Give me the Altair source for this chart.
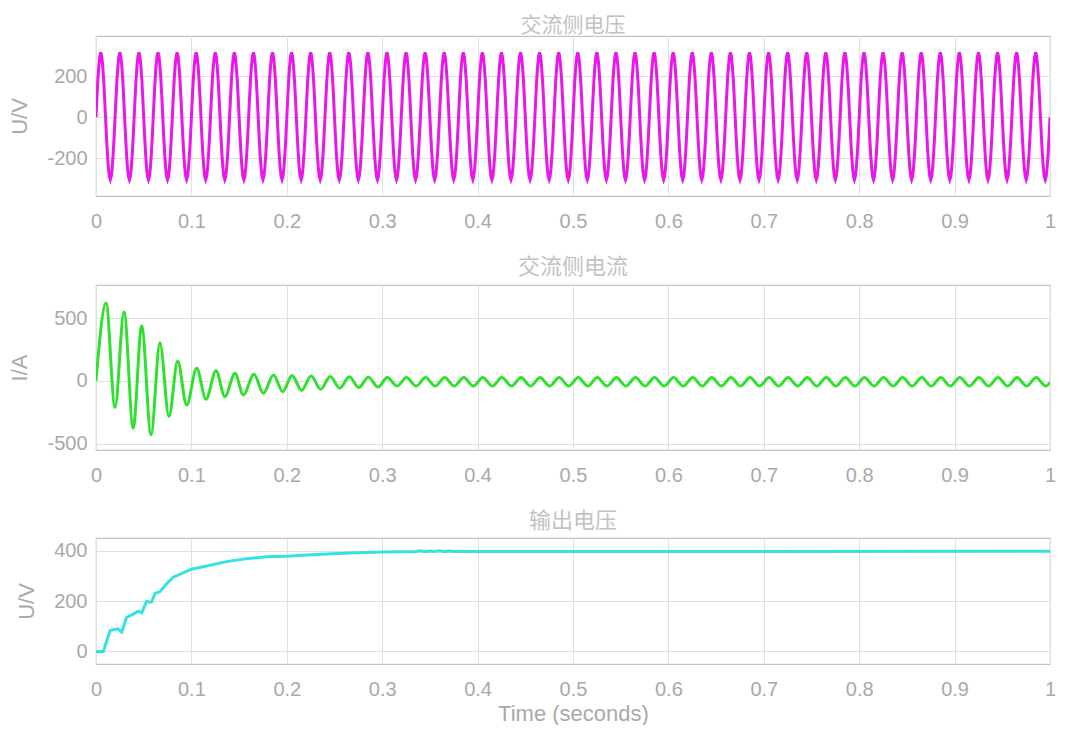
import altair as alt
import pandas as pd

# ---------------- data ----------------
X_TICKS = [0, 0.1, 0.2, 0.3, 0.4, 0.5, 0.6, 0.7, 0.8, 0.9, 1]

# AC-side voltage: one 20 ms cycle read at 1 ms steps (V), repeated for 50 cycles
VOLT_CYCLE = [0, 98, 185, 252, 298, 317, 298, 252, 185, 98,
              0, -96, -180, -246, -290, -305, -290, -246, -180, -96]
VOLT_CYCLES = 50
VOLT_STEP = 0.001

# AC-side current: extrema of the start-up transient (s, A)
CUR_T = [0.0, 0.0105, 0.0199, 0.0294, 0.039, 0.0479, 0.0577, 0.067, 0.0765,
         0.0856, 0.095, 0.1055, 0.1153, 0.1258, 0.135, 0.1457, 0.1544,
         0.1656, 0.1754, 0.186, 0.1957]
CUR_V = [0, 621, -209, 550, -375, 439, -429, 304, -283,
         159, -192, 101, -145, 82, -125, 61, -111,
         53, -98, 48, -85]
# steady-state extrema after 0.2 s (one peak and one trough per 20 ms)
CUR_STEADY_FIRST_PEAK = 0.2055
CUR_STEADY_PERIOD = 0.02
CUR_STEADY_PEAKS = [44, 40, 36, 33, 30] + [27] * 35
CUR_STEADY_TROUGHS = [-75, -65, -58, -52, -48] + [-40] * 35
CUR_END_T = 1.0
CUR_END_V = -13

# DC output voltage (s, V)
OUT_T = [0, 0.0077, 0.0147, 0.023, 0.027, 0.032, 0.039, 0.044, 0.048, 0.053,
         0.058, 0.062, 0.067, 0.074, 0.081, 0.090, 0.100, 0.116, 0.137, 0.158,
         0.179, 0.200, 0.231, 0.266, 0.30, 0.335, 0.34, 0.345, 0.35, 0.355,
         0.36, 0.365, 0.37, 0.376, 0.40, 1.0]
OUT_V = [0, 0, 83, 90, 77, 135, 148, 160, 154, 199,
         195, 231, 237, 269, 295, 310, 327, 340, 357, 369,
         376, 378, 385, 391, 395, 397, 400, 396, 399, 397,
         400, 396, 399, 397, 397, 398]

TITLES = ["交流侧电压", "交流侧电流", "输出电压"]
Y_TITLES = ["U/V", "I/A", "U/V"]
Y_TICKS = [[-200, 0, 200], [-500, 0, 500], [0, 200, 400]]
Y_DOMAINS = [[-385, 397], [-550, 765], [-50, 451]]
COLORS = ["#e818e8", "#2fe02f", "#34e2e2"]

# ---------------- tables ----------------
n_v = VOLT_CYCLES * len(VOLT_CYCLE) + 1
volt_df = pd.DataFrame({
    "t": [round(k * VOLT_STEP, 6) for k in range(n_v)],
    "v": [VOLT_CYCLE[k % len(VOLT_CYCLE)] for k in range(n_v)],
})

cur_t = list(CUR_T)
cur_v = list(CUR_V)
for k, (pk, tr) in enumerate(zip(CUR_STEADY_PEAKS, CUR_STEADY_TROUGHS)):
    tp = CUR_STEADY_FIRST_PEAK + k * CUR_STEADY_PERIOD
    cur_t += [tp, tp + CUR_STEADY_PERIOD / 2]
    cur_v += [pk, tr]
cur_t.append(CUR_END_T)
cur_v.append(CUR_END_V)
cur_df = pd.DataFrame({"t": cur_t, "v": cur_v})

out_df = pd.DataFrame({"t": OUT_T, "v": OUT_V})

LABEL_FONT = "Liberation Sans"
LABEL_COLOR = "#a9a9a9"
TITLE_OFFSETS = [0, 6, 5]
TITLE_SIZES = [21, 22, 22]


def panel(df, i, height, interp, show_x_title=False):
    x_axis = alt.Axis(
        values=X_TICKS, format="~g", labelFontSize=20, labelPadding=15,
        labelColor=LABEL_COLOR, labelFont=LABEL_FONT, ticks=False, domain=False,
        gridColor="#e0e0e0", labelFlush=False,
        title="Time (seconds)" if show_x_title else None,
        titleFontSize=22, titleColor=LABEL_COLOR, titleFont=LABEL_FONT,
        titleFontWeight="normal", titlePadding=4,
    )
    y_axis = alt.Axis(
        values=Y_TICKS[i], labelExpr="'' + datum.value", labelFontSize=20,
        labelPadding=9, labelColor=LABEL_COLOR, labelFont=LABEL_FONT,
        ticks=False, domain=False, gridColor="#e0e0e0", title=Y_TITLES[i],
        titleFontSize=22, titleColor=LABEL_COLOR, titleFont=LABEL_FONT,
        titleFontWeight="normal", titlePadding=15,
    )
    return alt.Chart(df).mark_line(
        color=COLORS[i], strokeWidth=3, interpolate=interp, clip=True
    ).encode(
        x=alt.X("t:Q", scale=alt.Scale(domain=[0, 1], nice=False), axis=x_axis),
        y=alt.Y("v:Q", scale=alt.Scale(domain=Y_DOMAINS[i], nice=False, zero=False), axis=y_axis),
    ).properties(
        width=954, height=height,
        title=alt.TitleParams(
            TITLES[i], fontSize=TITLE_SIZES[i], font="Noto Sans CJK SC",
            fontWeight="normal", color="#c2c2c2", offset=TITLE_OFFSETS[i],
            anchor="middle",
        ),
    )


chart = alt.vconcat(
    panel(volt_df, 0, 160, "linear"),
    panel(cur_df, 1, 165, "monotone"),
    panel(out_df, 2, 126, "linear", show_x_title=True),
    spacing=23,
).properties(
    padding={"top": 6, "bottom": 0, "left": 0, "right": 0},
    background="#ffffff",
).configure_view(
    stroke="#c4c4c4", strokeWidth=1.2
)

chart.save("out.html", embed_options={"renderer": "svg", "actions": False})
